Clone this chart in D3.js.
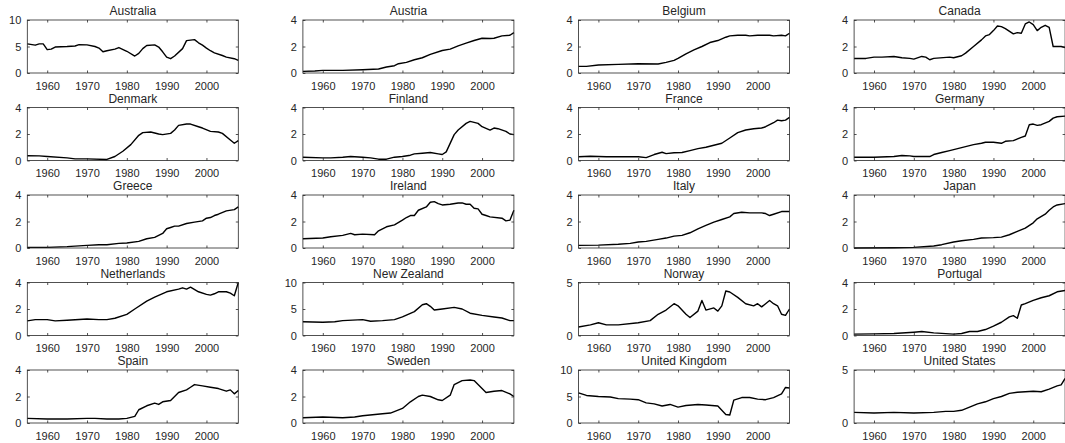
<!DOCTYPE html>
<html>
<head>
<meta charset="UTF-8">
<title>Country panels</title>
<script src="https://d3js.org/d3.v7.min.js"></script>
<style>
  body { margin: 0; background: #fff; }
  text { font-family: "Liberation Sans", Arial, Helvetica, sans-serif; fill: #262626; }
</style>
</head>
<body>
<div id="chart"></div>
<script>
// ---- data ----
var countries = ["Australia", "Austria", "Belgium", "Canada",
                 "Denmark", "Finland", "France", "Germany",
                 "Greece", "Ireland", "Italy", "Japan",
                 "Netherlands", "New Zealand", "Norway", "Portugal",
                 "Spain", "Sweden", "United Kingdom", "United States"];

var yMax   = [10, 4, 4, 4,  4, 4, 4, 4,  4, 4, 4, 4,  4, 10, 5, 4,  4, 4, 10, 5];
var xTicks = [1960, 1970, 1980, 1990, 2000];
var yearRange = [1955, 2008];

var australia = [[1955,5.5],[1957,5.25],[1958,5.5],[1959,5.5],[1960,4.4],[1961,4.5],[1962,4.9],[1965,5.0],[1967,5.1],[1968,5.35],[1970,5.3],[1972,5.0],[1973,4.7],[1974,4.0],[1975,4.2],[1977,4.5],[1978,4.8],[1980,4.1],[1982,3.2],[1983,3.7],[1984,4.6],[1985,5.2],[1987,5.3],[1988,4.9],[1989,4.0],[1990,3.0],[1991,2.7],[1992,3.2],[1994,4.6],[1995,6.1],[1997,6.3],[1998,5.7],[1999,5.25],[2000,4.7],[2001,4.2],[2002,3.8],[2004,3.3],[2005,3.0],[2007,2.7],[2008,2.4]];
var austria = [[1955,0.12],[1958,0.15],[1960,0.2],[1965,0.2],[1970,0.25],[1974,0.3],[1976,0.45],[1978,0.55],[1979,0.7],[1981,0.8],[1983,1.0],[1985,1.15],[1987,1.4],[1990,1.7],[1992,1.8],[1994,2.05],[1996,2.25],[1998,2.45],[2000,2.62],[2002,2.6],[2003,2.62],[2005,2.8],[2007,2.85],[2008,3.05]];
var belgium = [[1955,0.5],[1957,0.5],[1960,0.6],[1965,0.65],[1970,0.7],[1975,0.68],[1977,0.8],[1979,0.95],[1980,1.1],[1982,1.45],[1984,1.75],[1986,2.0],[1988,2.3],[1990,2.45],[1992,2.7],[1993,2.8],[1995,2.85],[1997,2.85],[1998,2.8],[2000,2.85],[2003,2.85],[2004,2.8],[2006,2.85],[2007,2.8],[2008,3.0]];
var canada = [[1955,1.1],[1958,1.1],[1960,1.2],[1962,1.2],[1965,1.25],[1967,1.15],[1969,1.1],[1970,1.05],[1972,1.25],[1973,1.2],[1974,1.0],[1975,1.1],[1979,1.2],[1980,1.15],[1982,1.3],[1983,1.5],[1985,2.0],[1987,2.5],[1988,2.8],[1989,2.9],[1990,3.2],[1991,3.55],[1992,3.5],[1993,3.35],[1995,2.95],[1996,3.05],[1997,3.0],[1998,3.7],[1999,3.85],[2000,3.65],[2001,3.2],[2002,3.45],[2003,3.6],[2004,3.45],[2005,2.0],[2007,2.0],[2008,1.92]];
var denmark = [[1955,0.36],[1958,0.35],[1960,0.3],[1965,0.2],[1967,0.12],[1970,0.12],[1975,0.08],[1977,0.3],[1979,0.7],[1981,1.2],[1983,1.9],[1984,2.1],[1986,2.15],[1988,2.0],[1989,1.95],[1991,2.05],[1992,2.3],[1993,2.65],[1995,2.75],[1996,2.75],[1998,2.55],[1999,2.45],[2001,2.2],[2003,2.15],[2004,2.05],[2006,1.55],[2007,1.3],[2008,1.5]];
var finland = [[1955,0.25],[1960,0.2],[1962,0.2],[1965,0.25],[1967,0.3],[1970,0.25],[1972,0.2],[1974,0.1],[1976,0.1],[1978,0.25],[1980,0.3],[1982,0.4],[1983,0.5],[1985,0.55],[1987,0.6],[1989,0.5],[1990,0.45],[1991,0.65],[1993,1.95],[1994,2.3],[1996,2.8],[1997,2.95],[1999,2.8],[2000,2.55],[2002,2.3],[2003,2.45],[2004,2.4],[2006,2.2],[2007,2.0],[2008,1.95]];
var france = [[1955,0.28],[1958,0.32],[1960,0.3],[1962,0.28],[1965,0.28],[1970,0.28],[1972,0.22],[1974,0.45],[1976,0.62],[1977,0.52],[1979,0.58],[1981,0.6],[1983,0.75],[1985,0.9],[1987,1.0],[1989,1.15],[1991,1.3],[1993,1.7],[1995,2.1],[1997,2.3],[1999,2.4],[2001,2.45],[2002,2.55],[2004,2.85],[2005,3.05],[2006,3.0],[2007,3.05],[2008,3.25]];
var germany = [[1955,0.25],[1960,0.25],[1965,0.3],[1967,0.38],[1969,0.35],[1970,0.3],[1974,0.3],[1975,0.45],[1977,0.6],[1979,0.75],[1981,0.9],[1983,1.05],[1985,1.2],[1987,1.3],[1988,1.38],[1990,1.38],[1992,1.3],[1993,1.45],[1995,1.5],[1997,1.75],[1998,1.85],[1999,2.7],[2000,2.75],[2001,2.65],[2002,2.7],[2004,2.95],[2005,3.2],[2006,3.3],[2008,3.35]];
var greece = [[1955,0.05],[1960,0.05],[1965,0.1],[1970,0.2],[1973,0.25],[1975,0.25],[1978,0.35],[1980,0.38],[1983,0.5],[1985,0.7],[1987,0.8],[1989,1.1],[1990,1.45],[1991,1.55],[1992,1.65],[1993,1.65],[1995,1.85],[1997,1.95],[1999,2.05],[2000,2.25],[2001,2.3],[2002,2.45],[2003,2.55],[2005,2.8],[2007,2.9],[2008,3.1]];
var ireland = [[1955,0.7],[1960,0.75],[1962,0.85],[1965,0.95],[1967,1.1],[1968,1.0],[1970,1.05],[1973,1.0],[1974,1.3],[1975,1.45],[1976,1.6],[1978,1.75],[1980,2.1],[1981,2.3],[1982,2.45],[1983,2.45],[1984,2.85],[1986,3.1],[1987,3.45],[1988,3.5],[1989,3.35],[1990,3.25],[1992,3.3],[1994,3.4],[1995,3.4],[1996,3.3],[1997,3.3],[1998,3.0],[1999,2.95],[2000,2.55],[2001,2.45],[2002,2.35],[2005,2.25],[2006,2.05],[2007,2.1],[2008,2.85]];
var italy = [[1955,0.2],[1960,0.22],[1965,0.28],[1968,0.35],[1970,0.45],[1972,0.5],[1975,0.65],[1977,0.75],[1979,0.9],[1981,0.95],[1983,1.15],[1985,1.45],[1987,1.7],[1989,1.95],[1991,2.15],[1993,2.35],[1994,2.6],[1996,2.7],[1998,2.65],[2000,2.65],[2001,2.65],[2002,2.6],[2003,2.45],[2004,2.55],[2006,2.75],[2007,2.75],[2008,2.75]];
var japan = [[1955,0.0],[1965,0.02],[1970,0.05],[1975,0.15],[1977,0.25],[1980,0.45],[1982,0.55],[1985,0.65],[1987,0.75],[1990,0.78],[1992,0.82],[1994,1.0],[1996,1.25],[1998,1.5],[2000,1.9],[2001,2.2],[2003,2.55],[2004,2.85],[2005,3.1],[2006,3.25],[2008,3.35]];
var netherlands = [[1955,1.1],[1957,1.2],[1960,1.2],[1962,1.1],[1965,1.15],[1970,1.25],[1973,1.2],[1975,1.2],[1977,1.3],[1980,1.6],[1982,2.0],[1985,2.6],[1987,2.9],[1990,3.3],[1993,3.5],[1994,3.6],[1995,3.5],[1996,3.65],[1998,3.3],[2000,3.1],[2001,3.05],[2002,3.15],[2003,3.3],[2005,3.3],[2006,3.2],[2007,3.0],[2008,4.0]];
var newZealand = [[1955,2.6],[1960,2.5],[1963,2.6],[1965,2.8],[1970,3.0],[1972,2.7],[1975,2.8],[1978,3.0],[1980,3.5],[1983,4.5],[1985,5.8],[1986,6.0],[1987,5.5],[1988,4.8],[1990,5.0],[1993,5.3],[1995,5.0],[1997,4.2],[2000,3.8],[2003,3.5],[2005,3.3],[2007,2.8],[2008,2.8]];
var norway = [[1955,0.8],[1958,1.0],[1960,1.2],[1962,1.0],[1965,1.0],[1970,1.2],[1973,1.4],[1975,2.0],[1977,2.4],[1979,3.0],[1980,2.8],[1982,2.0],[1983,1.7],[1985,2.3],[1986,3.3],[1987,2.4],[1989,2.6],[1990,2.3],[1991,2.8],[1992,4.2],[1993,4.1],[1995,3.6],[1997,3.0],[1999,2.8],[2000,3.0],[2001,2.7],[2002,3.0],[2003,3.3],[2004,3.0],[2005,2.8],[2006,2.0],[2007,1.9],[2008,2.5]];
var portugal = [[1955,0.1],[1960,0.12],[1965,0.15],[1970,0.25],[1972,0.3],[1975,0.2],[1980,0.1],[1982,0.15],[1984,0.3],[1986,0.3],[1988,0.45],[1990,0.7],[1992,1.0],[1994,1.4],[1995,1.5],[1996,1.3],[1997,2.3],[1998,2.4],[2000,2.65],[2002,2.85],[2004,3.0],[2006,3.3],[2008,3.4]];
var spain = [[1955,0.35],[1960,0.3],[1965,0.3],[1970,0.35],[1972,0.35],[1975,0.3],[1978,0.3],[1980,0.35],[1982,0.5],[1983,1.0],[1985,1.3],[1987,1.5],[1988,1.4],[1989,1.6],[1991,1.7],[1993,2.3],[1995,2.5],[1996,2.7],[1997,2.9],[1999,2.8],[2001,2.7],[2003,2.6],[2005,2.4],[2006,2.5],[2007,2.2],[2008,2.45]];
var sweden = [[1955,0.4],[1960,0.45],[1965,0.4],[1968,0.45],[1970,0.55],[1975,0.7],[1977,0.75],[1980,1.1],[1982,1.6],[1984,2.0],[1985,2.1],[1987,2.0],[1989,1.75],[1990,1.7],[1992,2.1],[1993,2.9],[1995,3.2],[1997,3.25],[1998,3.2],[2000,2.6],[2001,2.3],[2003,2.4],[2005,2.45],[2007,2.2],[2008,2.0]];
var unitedKingdom = [[1955,5.7],[1957,5.2],[1960,5.0],[1963,4.9],[1965,4.6],[1968,4.5],[1970,4.4],[1972,3.8],[1974,3.6],[1976,3.2],[1978,3.5],[1980,3.0],[1982,3.3],[1985,3.5],[1987,3.4],[1990,3.2],[1992,1.6],[1993,1.5],[1994,4.3],[1996,4.8],[1998,4.8],[2000,4.5],[2002,4.4],[2004,4.8],[2006,5.5],[2007,6.7],[2008,6.6]];
var unitedStates = [[1955,1.0],[1960,0.95],[1965,1.0],[1970,0.95],[1975,1.0],[1978,1.1],[1980,1.1],[1982,1.2],[1984,1.5],[1986,1.8],[1988,2.0],[1990,2.3],[1992,2.5],[1994,2.8],[1996,2.9],[1998,2.95],[2000,3.0],[2002,2.95],[2004,3.2],[2006,3.5],[2007,3.6],[2008,4.2]];

var series = [australia, austria, belgium, canada,
              denmark, finland, france, germany,
              greece, ireland, italy, japan,
              netherlands, newZealand, norway, portugal,
              spain, sweden, unitedKingdom, unitedStates];

// ---- layout ----
var W = 1065, H = 443;
var nCols = 4;
var panelW = 211, panelH = 53;
var colStep = 275.6, rowStep = 87.5;
var left0 = 27.3, top0 = 20;
var tickLen = 2.5;

var svg = d3.select("#chart").append("svg")
    .attr("width", W)
    .attr("height", H);

var x = d3.scaleLinear().domain(yearRange).range([0, panelW]);

var line = d3.line()
    .x(function(d) { return x(d[0]); });

countries.forEach(function(name, i) {
    var col = i % nCols, row = Math.floor(i / nCols);
    var g = svg.append("g")
        .attr("transform", "translate(" + (left0 + col * colStep) + "," + (top0 + row * rowStep) + ")");

    var y = d3.scaleLinear().domain([0, yMax[i]]).range([panelH, 0]);
    var yt = yMax[i] == 4 ? [0, 2, 4] : (yMax[i] == 10 ? [0, 5, 10] : [0, 5]);

    // data line first, box on top like matlab
    g.append("path")
        .datum(series[i])
        .attr("fill", "none")
        .attr("stroke", "#000")
        .attr("stroke-width", 1.4)
        .attr("stroke-linejoin", "round")
        .attr("d", line.y(function(d) { return y(d[1]); }));

    // bottom axis, ticks pointing in
    var xb = g.append("g")
        .attr("transform", "translate(0," + panelH + ")")
        .call(d3.axisBottom(x).tickValues(xTicks).tickFormat(d3.format("d"))
            .tickSizeInner(-tickLen).tickSizeOuter(0).tickPadding(9));
    var xtop = g.append("g")
        .call(d3.axisTop(x).tickValues(xTicks).tickFormat("")
            .tickSizeInner(-tickLen).tickSizeOuter(0));
    var yl = g.append("g")
        .call(d3.axisLeft(y).tickValues(yt).tickFormat(d3.format("d"))
            .tickSizeInner(-tickLen).tickSizeOuter(0).tickPadding(6));
    var yr = g.append("g")
        .attr("transform", "translate(" + panelW + ",0)")
        .call(d3.axisRight(y).tickValues(yt).tickFormat("")
            .tickSizeInner(-tickLen).tickSizeOuter(0));

    [xb, xtop, yl, yr].forEach(function(a) {
        a.select(".domain").remove();
        a.selectAll("line").attr("stroke", "#262626").attr("stroke-width", 0.8);
        a.selectAll("text").attr("font-size", "11px").style("font-family", "'Liberation Sans', Arial, sans-serif").attr("fill", "#262626");
    });

    g.append("rect")
        .attr("width", panelW)
        .attr("height", panelH)
        .attr("fill", "none")
        .attr("stroke", "#262626")
        .attr("stroke-width", 0.8);

    g.append("text")
        .attr("x", panelW / 2)
        .attr("y", -5)
        .attr("text-anchor", "middle")
        .attr("font-size", "12px")
        .text(name);
});
</script>
</body>
</html>
